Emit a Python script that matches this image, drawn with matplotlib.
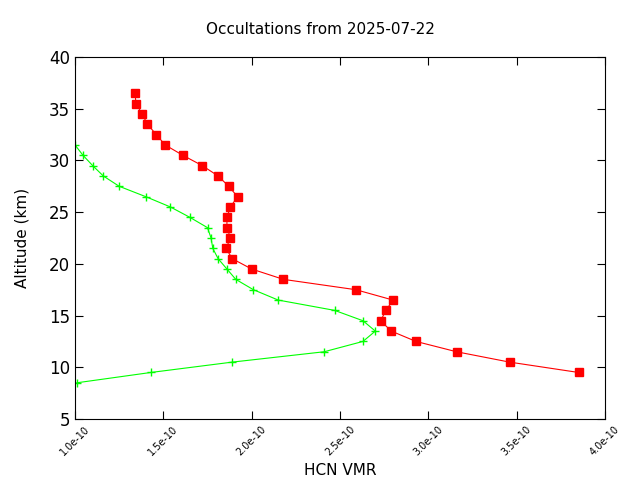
import numpy as np
import matplotlib.pyplot as plt

alt_red = [36.5,35.5,34.5,33.5,32.5,31.5,30.5,29.5,28.5,27.5,26.5,25.5,24.5,23.5,22.5,21.5,20.5,19.5,18.5,17.5,16.5,15.5,14.5,13.5,12.5,11.5,10.5,9.5]
vmr_red = [1.34,1.345,1.38,1.41,1.46,1.51,1.61,1.72,1.81,1.87,1.92,1.88,1.86,1.86,1.88,1.855,1.89,2.00,2.18,2.59,2.80,2.76,2.73,2.79,2.93,3.16,3.46,3.85]
alt_green = [31.5,30.5,29.5,28.5,27.5,26.5,25.5,24.5,23.5,22.5,21.5,20.5,19.5,18.5,17.5,16.5,15.5,14.5,13.5,12.5,11.5,10.5,9.5,8.5]
vmr_green = [1.00,1.045,1.10,1.16,1.25,1.40,1.54,1.65,1.75,1.77,1.78,1.81,1.86,1.91,2.01,2.15,2.47,2.63,2.70,2.63,2.41,1.89,1.43,1.01]
xticks = [1.0e-10,1.5e-10,2.0e-10,2.5e-10,3.0e-10,3.5e-10,4.0e-10]
xticklabels = ["1.0e-10","1.5e-10","2.0e-10","2.5e-10","3.0e-10","3.5e-10","4.0e-10"]

fig = plt.figure(figsize=(6.4,4.8),dpi=100)
ax = fig.add_axes([75/640, 1-419/480, 530/640, 362/480])
ax.plot(np.array(vmr_red)*1e-10, alt_red, color="#ff0000", lw=0.8, marker="s", ms=5.5)
ax.plot(np.array(vmr_green)*1e-10, alt_green, color="#00ff00", lw=0.8, marker="+", ms=6, mew=1)
ax.set_xlim(1e-10,4e-10)
ax.set_ylim(5,40)
ax.set_xticks(xticks)
ax.set_xticklabels(xticklabels, rotation=45, fontsize=7)
ax.set_yticks(range(5,41,5))
ax.tick_params(axis="y", labelsize=12)
ax.tick_params(direction="in", top=True, right=True, length=6)
ax.set_xlabel("HCN VMR", fontsize=11)
ax.set_ylabel("Altitude (km)", fontsize=11, labelpad=14)
fig.suptitle("Occultations from 2025-07-22", fontsize=11, y=0.955)
fig.savefig("out.png")
